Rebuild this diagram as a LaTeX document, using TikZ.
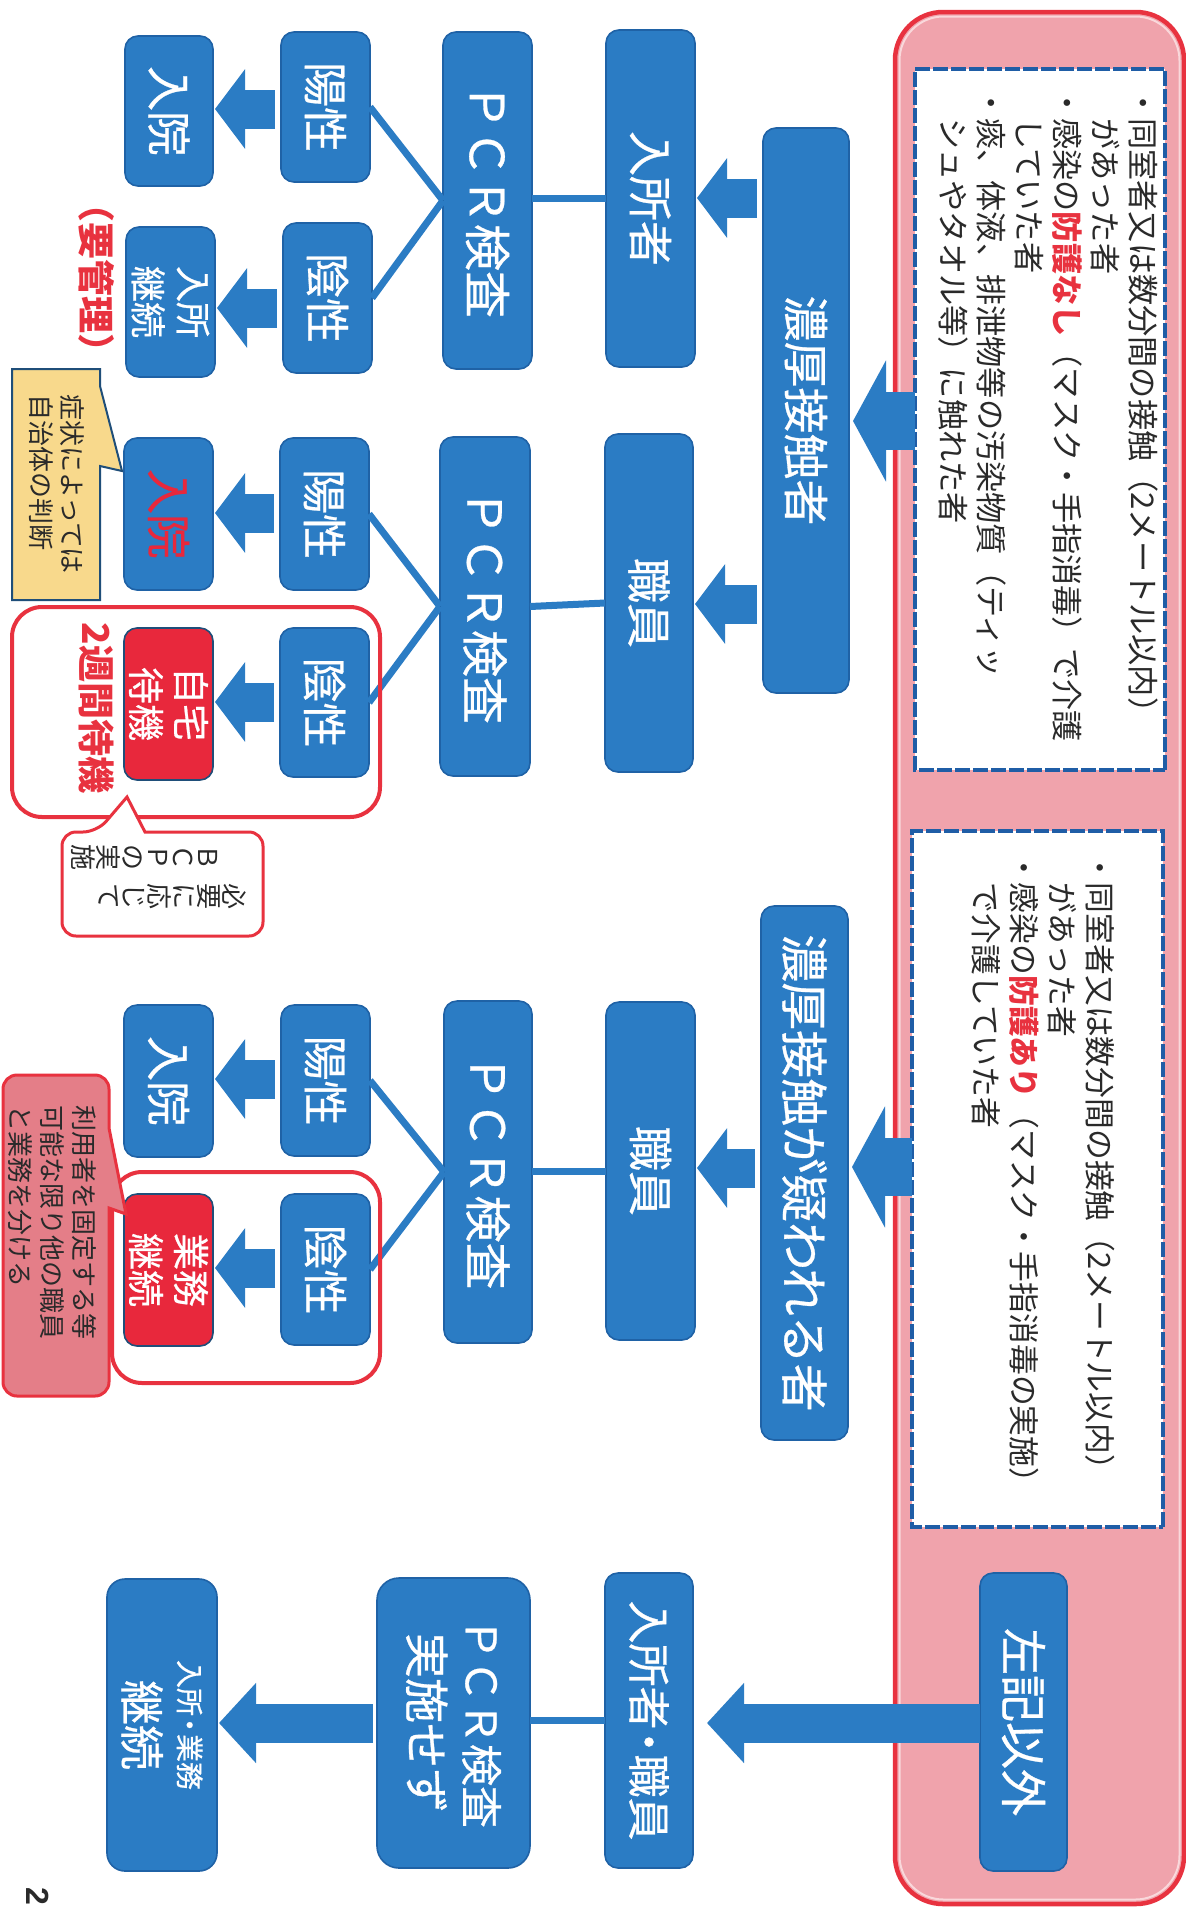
\documentclass[tikz,border=0pt]{standalone}
\usepackage{fontspec}
\usetikzlibrary{arrows.meta}
\setmainfont{Noto Sans CJK JP}
\newfontfamily\cjk{Noto Sans CJK JP}
\newfontfamily\cjkm[FakeBold=0.6]{Noto Sans CJK JP}
\newfontfamily\pagefont{Liberation Sans}
\definecolor{boxblue}{HTML}{2B7CC4}
\definecolor{boxedge}{HTML}{1F62A6}
\definecolor{pinkfill}{HTML}{F0A3AC}
\definecolor{palepink}{HTML}{F9D8DB}
\definecolor{redline}{HTML}{E8323F}
\definecolor{redfill}{HTML}{E8283C}
\definecolor{yellowfill}{HTML}{F8D98C}
\definecolor{navy}{HTML}{1F4E79}
\definecolor{dashblue}{HTML}{1F5DA6}
\definecolor{calloutpink}{HTML}{E47E88}
\definecolor{inktext}{HTML}{2A2A2A}
\newcommand\fs[2]{\fontsize{#1}{#2}\selectfont}
\newcommand\tgt[1]{\textcolor{redline}{\bfseries #1}}
\tikzset{
  rot/.style={rotate=-90,inner sep=0pt,outer sep=0pt},
  bluebox/.style={rot,draw=boxedge,line width=1.6pt,fill=boxblue,rounded corners=13pt,
    text=white,align=center,font=\cjkm\fs{45}{52}},
  redbox/.style={bluebox,fill=redfill,draw=navy},
  dashbox/.style={rot,fill=white,draw=dashblue,line width=4.5pt,dash pattern=on 15pt off 3pt},
  frame/.style={rot,draw=redline,line width=4pt,rounded corners=30pt},
  listtext/.style={rot,anchor=north west,align=left,text=inktext,font=\cjk\fs{31.2}{38}},
  notetext/.style={rot,align=left,text=inktext,font=\cjk\fs{26}{31}},
  vertcol/.style={rot,align=center,text=inktext,font=\cjk\fs{26}{25}},
  redlabel/.style={rot,text=redline,font=\cjk\bfseries\fs{37}{42}},
  wire/.style={draw=boxblue,line width=7pt},
  barrow/.style={draw=boxblue,line width=39pt,
    -{Triangle[length=30pt,width=78pt]},shorten >=2pt,shorten <=6pt},
  bigarrow/.style={draw=boxblue,line width=58pt,
    -{Triangle[length=33pt,width=120pt]},shorten >=4pt},
}
% \BxY[style]{name}{x0}{y0}{x1}{y1}{text}: corners are in reference pixels
\newcommand\BxY[7][bluebox]{%
  \node[#1,minimum width={(#6-#4)*1pt},minimum height={(#5-#3)*1pt}] (#2)
    at ({(#3+#5)/2},{(#4+#6)/2}) {#7};}
\begin{document}
\begin{tikzpicture}[x=1pt,y=-1pt]
\useasboundingbox (0,0) rectangle (1186,1907);
\fill[white] (0,0) rectangle (1186,1907);

% outer panel
\BxY[rot,fill=pinkfill,draw=redline,line width=4.5pt,rounded corners=48pt]{outer}{895}{12}{1184}{1904}{}
\BxY[rot,draw=palepink,line width=2pt,rounded corners=44pt]{outerin}{899.5}{16.5}{1179.5}{1899.5}{}
\BxY[dashbox]{dashA}{915}{69}{1165}{770}{}
\BxY[dashbox]{dashB}{912}{831}{1163}{1527}{}

% list texts
\node[listtext] (listA) at (1158,87) {%
・同室者又は数分間の接触（2メートル以内）\\
　があった者\\
・感染の\tgt{防護なし}（マスク・手指消毒）で介護\\
　していた者\\
・痰、体液、排泄物等の汚染物質（ティッ\\
　シュやタオル等）に触れた者};
\node[listtext,font=\cjk\fs{30.8}{38}] (listB) at (1115,852) {%
・同室者又は数分間の接触（2メートル以内）\\
　があった者\\
・感染の\tgt{防護あり}（マスク・手指消毒の実施）\\
　で介護していた者};

% top level
\BxY[bluebox,font=\cjkm\fs{46}{52}]{contact}{763}{128}{849}{693}{濃厚接触者}
\BxY[bluebox,font=\cjkm\fs{48}{52}]{suspect}{761}{906}{848}{1440}{濃厚接触が疑われる者}
\BxY[bluebox,font=\cjkm\fs{47}{52}]{other}{980}{1573}{1067}{1871}{左記以外}

% second level
\BxY{resA}{606}{30}{695}{367}{入所者}
\BxY{staffA}{605}{434}{693}{772}{職員}
\BxY{staffB}{606}{1002}{695}{1340}{職員}
\BxY[bluebox,font=\cjkm\fs{43}{52}]{both}{605}{1573}{693}{1868}{入所者\kern-9pt・\kern-9pt職員}

% PCR
\BxY[bluebox,font=\cjkm\fs{47}{52}]{pcrA}{443}{32}{532}{369}{ＰＣＲ検査}
\BxY[bluebox,font=\cjkm\fs{47}{52}]{pcrB}{440}{437}{530}{776}{ＰＣＲ検査}
\BxY[bluebox,font=\cjkm\fs{47}{52}]{pcrC}{444}{1001}{532}{1343}{ＰＣＲ検査}
\BxY[bluebox,rounded corners=22pt,font=\cjkm\fs{42}{56}]{pcrN}{377}{1578}{530}{1868}{ＰＣＲ検査\\{\fs{45}{56}実施せず}}

% results
\BxY{posA}{281}{32}{370}{182}{陽性}
\BxY{negA}{283}{223}{372}{373}{陰性}
\BxY{posB}{280}{438}{369}{590}{陽性}
\BxY{negB}{280}{628}{369}{777}{陰性}
\BxY{posC}{281}{1005}{370}{1156}{陽性}
\BxY{negC}{281}{1194}{370}{1345}{陰性}

% outcomes
\BxY{hospA}{125}{36}{213}{186}{入院}
\BxY[bluebox,font=\cjkm\fs{36}{45}]{stayA}{126}{227}{215}{377}{入所\\継続}
\BxY[bluebox,text=redfill]{hospB}{124}{438}{213}{590}{入院}
\BxY[redbox,font=\cjkm\fs{37}{45}]{home}{124}{628}{213}{780}{自宅\\待機}
\BxY{hospC}{124}{1005}{213}{1157}{入院}
\BxY[redbox,font=\cjkm\fs{37}{45}]{work}{124}{1194}{213}{1346}{業務\\継続}
\BxY[bluebox,rounded corners=18pt,align=center]{cont}{107}{1579}{217}{1871}{%
  {\fs{28}{46}入所\kern-5pt・\kern-5pt業務}\\[2pt]{\fs{45}{50}継続}}

% plain connectors
\draw[wire] (resA.south) -- (pcrA.north |- resA.south);
\draw[wire] (staffA.south) -- (pcrB.north);
\draw[wire] (staffB.south) -- (pcrC.north |- staffB.south);
\draw[wire] (both.south) -- (pcrN.north |- both.south);
\draw[wire] (pcrA.south) -- (posA.north);
\draw[wire] (pcrA.south) -- (negA.north);
\draw[wire] (pcrB.south) -- (posB.north);
\draw[wire] (pcrB.south) -- (negB.north);
\draw[wire] (pcrC.south) -- (posC.north);
\draw[wire] (pcrC.south) -- (negC.north);

% block arrows
\draw[bigarrow] (dashA.south |- 0,421) -- (contact.north |- 0,421);
\draw[bigarrow] (dashB.south |- 0,1167) -- (suspect.north |- 0,1167);
\draw[barrow] (contact.south |- 0,198) -- (resA.north |- 0,198);
\draw[barrow] (contact.south |- 0,604) -- (staffA.north |- 0,604);
\draw[barrow] (suspect.south |- 0,1168) -- (staffB.north |- 0,1168);
\draw[barrow,shorten <=0pt,shorten >=14pt,-{Triangle[length=37pt,width=78pt]}] (other.south |- 0,1723) -- (both.north |- 0,1723);
\draw[barrow] (posA.south |- 0,109) -- (hospA.north |- 0,109);
\draw[barrow] (negA.south |- 0,308) -- (stayA.north |- 0,308);
\draw[barrow] (posB.south |- 0,513) -- (hospB.north |- 0,513);
\draw[barrow] (negB.south |- 0,702) -- (home.north |- 0,702);
\draw[barrow] (posC.south |- 0,1079) -- (hospC.north |- 0,1079);
\draw[barrow] (negC.south |- 0,1268) -- (work.north |- 0,1268);
\draw[barrow,shorten <=4pt,-{Triangle[length=37pt,width=78pt]}] (pcrN.south |- 0,1723) -- (cont.north |- 0,1723);

% red frames
\BxY[frame]{frameB}{12}{607}{380}{817}{}
\BxY[frame]{frameC}{112}{1172}{380}{1383}{}

% red labels
\node[redlabel] (tagA) at (97,278) {（要管理）};
\node[redlabel] (tagB) at (97,708) {2週間待機};

% yellow callout
\draw[fill=yellowfill,draw=navy,line width=2pt]
  (12,369) -- (100,369) -- (100,386) -- (122,471) -- (100,466) -- (100,600) -- (12,600) -- cycle;
\node[notetext] (noteY) at (57,484) {症状によっては\\自治体の判断};

% BCP callout
\draw[fill=white,draw=redline,line width=3pt,rounded corners=14pt]
  (62,880) -- (62,832) -- (97,832) [sharp corners] -- (127,797) -- (145,832)
  [rounded corners=14pt] -- (263,832) -- (263,936) -- (62,936) -- cycle;
\node[vertcol] (bcpA) at (172,896) {必\\要\\に\\応\\じ\\て};
\node[vertcol] (bcpB) at (145,857) {Ｂ\\Ｃ\\Ｐ\\の\\実\\施};

% pink callout
\draw[fill=calloutpink,draw=redline,line width=3pt,rounded corners=14pt]
  (3,1240) -- (3,1075) -- (109,1075) [sharp corners] -- (109,1128) -- (126,1214) -- (109,1208)
  [rounded corners=14pt] -- (109,1396) -- (3,1396) -- cycle;
\node[notetext,font=\cjk\fs{26}{32}] (noteP) at (52,1222) {利用者を固定する等\\可能な限り他の職員\\と業務を分ける};

% page number
\node[rot,font=\pagefont\bfseries\fs{32}{32},text=inktext] (pageno) at (38,1896) {2};
\end{tikzpicture}
\end{document}
